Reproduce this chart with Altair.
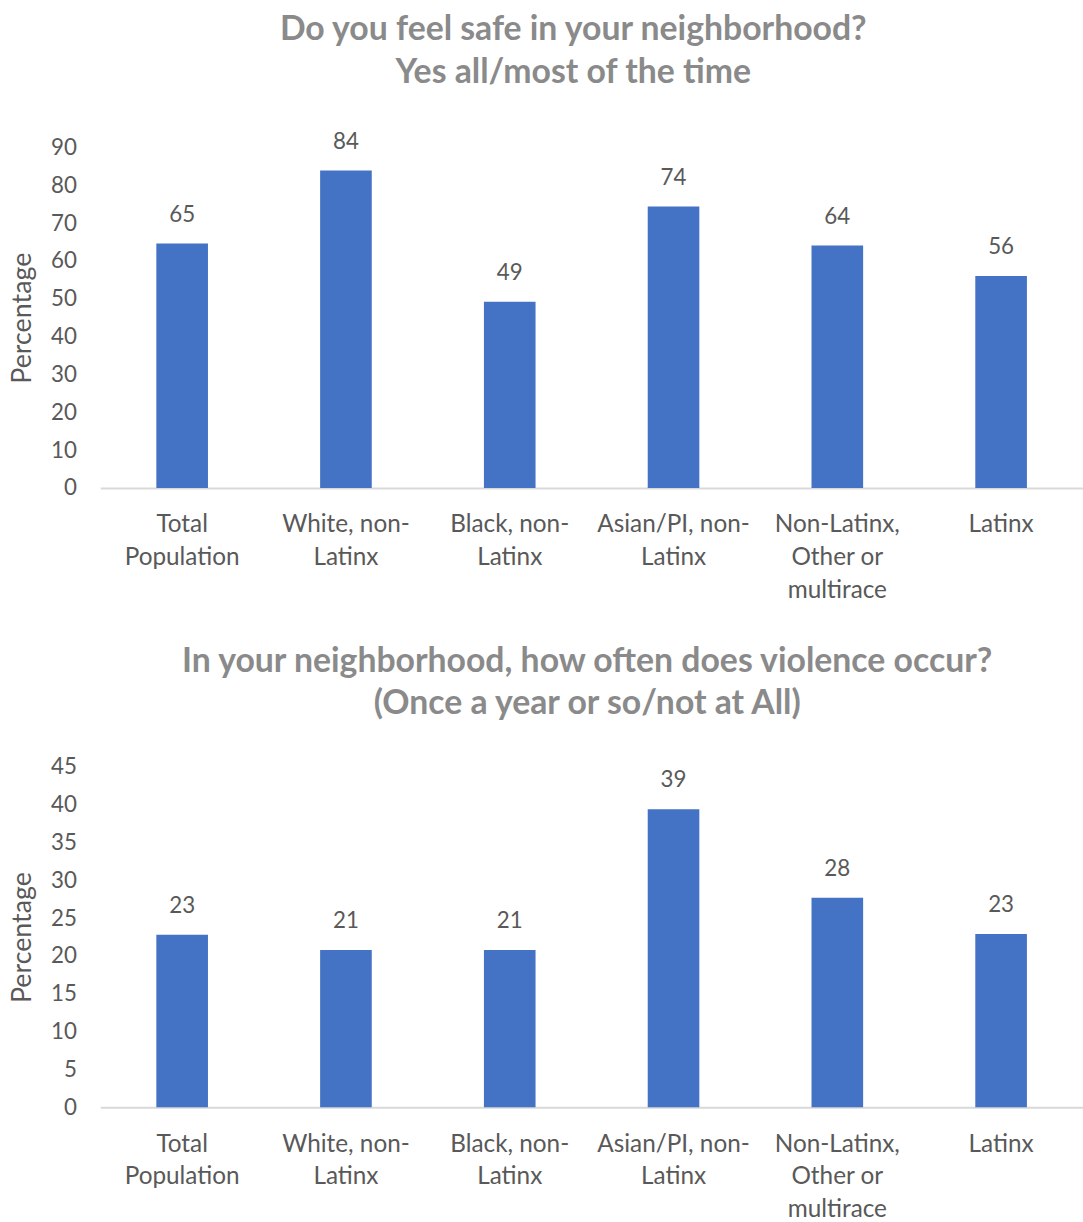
import altair as alt
import pandas as pd

categories = ["Total|Population", "White, non-|Latinx", "Black, non-|Latinx",
              "Asian/PI, non-|Latinx", "Non-Latinx,|Other or|multirace", "Latinx"]
safe_values = [64.6, 83.9, 49.2, 74.4, 64.1, 56.0]
violence_values = [22.8, 20.8, 20.8, 39.4, 27.7, 22.9]

title_top = ["Do you feel safe in your neighborhood?", "Yes all/most of the time"]
title_bottom = ["In your neighborhood, how often does violence occur?", "(Once a year or so/not at All)"]

FONT = "Lato"
TXT = "#595959"


def panel(values, title, ymax, step, dx, offset):
    df = pd.DataFrame({"cat": categories, "val": values})
    base = alt.Chart(df)
    x = alt.X("cat:N", sort=categories,
              scale=alt.Scale(range=[0, 990], paddingInner=0, paddingOuter=0),
              axis=alt.Axis(title=None, labelExpr="split(datum.label, '|')", labelAngle=0,
                            ticks=False, domainColor="#d9d9d9", domainWidth=2,
                            labelPadding=25, labelLineHeight=33, labelFontSize=24.5,
                            labelColor=TXT, labelFont=FONT))
    y = alt.Y("val:Q", scale=alt.Scale(domain=[0, ymax], nice=False),
              axis=alt.Axis(values=list(range(0, ymax + 1, step)), title="Percentage",
                            grid=False, domain=False, ticks=False, labelPadding=24,
                            labelOverlap=False, labelFlush=False,
                            titlePadding=14, labelFontSize=22.5, titleFontSize=27,
                            titleFontWeight="normal", titleColor=TXT, labelColor=TXT,
                            labelFont=FONT, titleFont=FONT))
    bars = base.mark_bar(size=52, color="#4472C4").encode(x=x, y=y)
    labels = base.mark_text(dy=-29, fontSize=22.5, color=TXT, font=FONT).encode(
        x=x, y=y, text=alt.Text("val:Q", format=".0f"))
    return alt.layer(bars, labels).properties(
        width=983, height=343,
        title=alt.TitleParams(text=title, fontSize=34, font=FONT, fontWeight="bold",
                              color="#8a8a8a", lineHeight=43, offset=offset, dx=dx,
                              anchor="middle"))


top = panel(safe_values, title_top, 90, 10, -15, 41)
bottom = panel(violence_values, title_bottom, 45, 5, -1, 35)

chart = alt.vconcat(top, bottom, spacing=43).properties(
    padding={"left": 8, "top": 9, "right": 0, "bottom": 0}
).configure(background="white").configure_view(strokeWidth=0, stroke="transparent")

chart.save("out.html", embed_options={"renderer": "svg", "actions": False})
